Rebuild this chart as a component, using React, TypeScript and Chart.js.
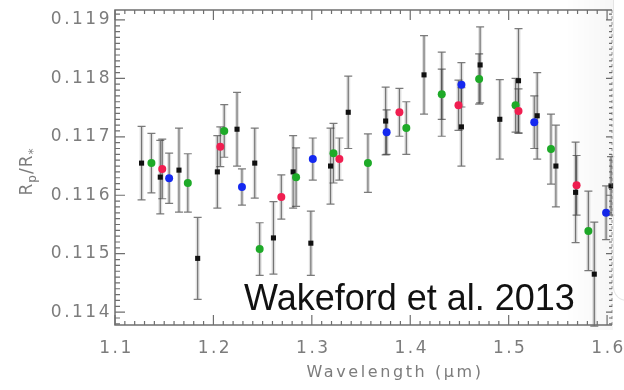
import React, { useEffect, useRef } from "react";
import { Chart, registerables } from "chart.js";

Chart.register(...registerables);

// Transit depth spectrum (planet-to-star radius ratio vs wavelength)
const blackWl = [1.127, 1.146, 1.165, 1.184, 1.204, 1.224, 1.242, 1.261, 1.281, 1.299, 1.319, 1.337, 1.375, 1.414, 1.432, 1.452, 1.471, 1.491, 1.51, 1.529, 1.548, 1.568, 1.587, 1.604];
const blackR = [0.11655, 0.11631, 0.11643, 0.11492, 0.1164, 0.11713, 0.11655, 0.11527, 0.1164, 0.11518, 0.1165, 0.11742, 0.11727, 0.11806, 0.11773, 0.11717, 0.11823, 0.1173, 0.11796, 0.11736, 0.1165, 0.11605, 0.11465, 0.11616];
const blackErr = [0.00063, 0.00063, 0.00072, 0.0007, 0.00062, 0.00063, 0.0006, 0.00062, 0.00062, 0.00055, 0.00065, 0.00062, 0.00058, 0.00067, 0.00072, 0.00067, 0.00065, 0.00068, 0.00089, 0.00074, 0.0007, 0.00086, 0.00089, 0.0005];

const greenWl = [1.137, 1.174, 1.211, 1.247, 1.284, 1.322, 1.357, 1.396, 1.432, 1.47, 1.507, 1.543, 1.581];
const greenR = [0.11655, 0.11621, 0.1171, 0.11508, 0.11631, 0.11672, 0.11655, 0.11715, 0.11773, 0.11799, 0.11754, 0.11679, 0.11539];
const greenErr = [0.00051, 0.0005, 0.00045, 0.00045, 0.0005, 0.00051, 0.0005, 0.00045, 0.00043, 0.00043, 0.00046, 0.0006, 0.00068];

const redWl = [1.148, 1.207, 1.269, 1.328, 1.389, 1.449, 1.51, 1.569];
const redR = [0.11645, 0.11683, 0.11597, 0.11662, 0.11742, 0.11754, 0.11744, 0.11617];
const redErr = [0.00051, 0.00034, 0.00038, 0.00036, 0.00041, 0.00043, 0.00038, 0.00051];

const blueWl = [1.155, 1.229, 1.301, 1.376, 1.452, 1.526, 1.599];
const blueR = [0.11629, 0.11614, 0.11662, 0.11708, 0.11789, 0.11725, 0.1157];
const blueErr = [0.00043, 0.00031, 0.00036, 0.00038, 0.00038, 0.00045, 0.00046];

const xTickValues = [1.1, 1.2, 1.3, 1.4, 1.5, 1.6];
const xTickLabels = ["1.1", "1.2", "1.3", "1.4", "1.5", "1.6"];
const yTickValues = [0.114, 0.115, 0.116, 0.117, 0.118, 0.119];
const yTickLabels = ["0.114", "0.115", "0.116", "0.117", "0.118", "0.119"];

const xTitle = "Wavelength (\u03BCm)";
const annotation = "Wakeford et al. 2013";

const toPoints = (xs: number[], ys: number[]) => xs.map((x, i) => ({ x, y: ys[i] }));

const AXIS_GRAY = "#6f6f6f";
const LABEL_GRAY = "#7c7c7c";

const errorBarsPlugin = {
  id: "errorBars",
  beforeDatasetsDraw(chart: any) {
    const ctx = chart.ctx;
    const xs = chart.scales.x;
    const ys = chart.scales.y;
    ctx.save();
    chart.data.datasets.forEach((ds: any) => {
      const errs: number[] = ds.errors || [];
      ds.data.forEach((p: any, i: number) => {
        const px = xs.getPixelForValue(p.x);
        const top = ys.getPixelForValue(p.y + errs[i]);
        const bot = ys.getPixelForValue(p.y - errs[i]);
        // soft band
        ctx.strokeStyle = "rgba(0,0,0,0.12)";
        ctx.lineWidth = 4;
        ctx.beginPath();
        ctx.moveTo(px, top);
        ctx.lineTo(px, bot);
        ctx.stroke();
        // core line and caps
        ctx.strokeStyle = "rgba(70,70,70,0.7)";
        ctx.lineWidth = 1.2;
        ctx.beginPath();
        ctx.moveTo(px, top);
        ctx.lineTo(px, bot);
        ctx.moveTo(px - 4, top);
        ctx.lineTo(px + 4, top);
        ctx.moveTo(px - 4, bot);
        ctx.lineTo(px + 4, bot);
        ctx.stroke();
      });
    });
    ctx.restore();
  },
};

const framePlugin = {
  id: "frame",
  afterDraw(chart: any) {
    const ctx = chart.ctx;
    const xs = chart.scales.x;
    const ys = chart.scales.y;
    const { left, right, top, bottom } = chart.chartArea;
    ctx.save();

    // frame
    ctx.strokeStyle = AXIS_GRAY;
    ctx.lineWidth = 1.5;
    ctx.beginPath();
    ctx.moveTo(right, top);
    ctx.lineTo(left, top);
    ctx.lineTo(left, bottom);
    ctx.lineTo(right, bottom);
    ctx.stroke();
    ctx.strokeStyle = "rgba(110,110,110,0.45)";
    ctx.setLineDash([3, 3]);
    ctx.beginPath();
    ctx.moveTo(right, top);
    ctx.lineTo(right, bottom);
    ctx.stroke();
    ctx.setLineDash([]);

    // x ticks (bottom and top)
    ctx.strokeStyle = AXIS_GRAY;
    ctx.lineWidth = 1.2;
    ctx.beginPath();
    for (let k = 0; k <= 50; k++) {
      const v = 1.1 + k * 0.01;
      const px = xs.getPixelForValue(v);
      if (px > right + 0.5) break;
      const len = k % 10 === 0 ? 10 : 4;
      ctx.moveTo(px, bottom);
      ctx.lineTo(px, bottom - len);
      ctx.moveTo(px, top);
      ctx.lineTo(px, top + len);
    }
    // y ticks (left and right)
    for (let k = -2; k <= 52; k++) {
      const v = 0.114 + k * 0.0001;
      const py = ys.getPixelForValue(v);
      if (py < top - 0.5 || py > bottom + 0.5) continue;
      const len = ((k % 10) + 10) % 10 === 0 ? 10 : 5;
      ctx.moveTo(left, py);
      ctx.lineTo(left + len, py);
      ctx.moveTo(right, py);
      ctx.lineTo(right - len * 0.6, py);
    }
    ctx.stroke();

    // tick labels
    ctx.fillStyle = LABEL_GRAY;
    ctx.font = "17px 'DejaVu Sans'";
    (ctx as any).letterSpacing = "2.5px";
    ctx.textBaseline = "middle";
    ctx.textAlign = "right";
    yTickValues.forEach((v, i) => {
      ctx.fillText(yTickLabels[i], left - 3, ys.getPixelForValue(v));
    });
    ctx.textAlign = "center";
    xTickValues.forEach((v, i) => {
      ctx.fillText(xTickLabels[i], xs.getPixelForValue(v) + 1.5, bottom + 24);
    });

    // x title
    ctx.font = "16px 'DejaVu Sans'";
    (ctx as any).letterSpacing = "2.6px";
    ctx.fillText(xTitle, 395, bottom + 48);

    // y title: R_p / R_*
    (ctx as any).letterSpacing = "1px";
    const parts: [string, number, number][] = [
      ["R", 17, 0],
      ["p", 12, 4],
      ["/R", 17, 0],
      ["*", 12, 5],
    ];
    let total = 0;
    parts.forEach(([t, s]) => {
      ctx.font = `${s}px 'DejaVu Sans'`;
      total += ctx.measureText(t).width;
    });
    ctx.translate(26, (top + bottom) / 2 + 4);
    ctx.rotate(-Math.PI / 2);
    ctx.textAlign = "left";
    ctx.textBaseline = "alphabetic";
    let cx = -total / 2;
    parts.forEach(([t, s, dy]) => {
      ctx.font = `${s}px 'DejaVu Sans'`;
      ctx.fillText(t, cx, 6 + dy);
      cx += ctx.measureText(t).width;
    });
    ctx.restore();
  },
};

export default function App() {
  const canvasRef = useRef<HTMLCanvasElement | null>(null);

  useEffect(() => {
    if (!canvasRef.current) return;
    const pointBase = { showLine: false, clip: false as any, pointBorderWidth: 0 };
    const chart = new Chart(canvasRef.current, {
      type: "scatter",
      data: {
        datasets: [
          { ...pointBase, label: "blue", data: toPoints(blueWl, blueR), errors: blueErr, pointBackgroundColor: "#1428f0", pointRadius: 4, pointStyle: "circle" } as any,
          { ...pointBase, label: "red", data: toPoints(redWl, redR), errors: redErr, pointBackgroundColor: "#f01e50", pointRadius: 4, pointStyle: "circle" } as any,
          { ...pointBase, label: "green", data: toPoints(greenWl, greenR), errors: greenErr, pointBackgroundColor: "#1eaa28", pointRadius: 4, pointStyle: "circle" } as any,
          { ...pointBase, label: "black", data: toPoints(blackWl, blackR), errors: blackErr, pointBackgroundColor: "#111111", pointRadius: 3.6, pointStyle: "rect" } as any,
        ],
      },
      options: {
        responsive: false,
        animation: false,
        layout: { padding: { top: 10, right: 12, left: 0, bottom: 0 } },
        plugins: { legend: { display: false }, tooltip: { enabled: false } },
        scales: {
          x: {
            type: "linear",
            min: 1.1,
            max: 1.605,
            grid: { display: false },
            border: { display: false },
            ticks: { display: false },
            afterFit: (s: any) => {
              s.height = 65;
            },
          },
          y: {
            type: "linear",
            min: 0.11378,
            max: 0.11917,
            grid: { display: false },
            border: { display: false },
            ticks: { display: false },
            afterFit: (s: any) => {
              s.width = 115;
            },
          },
        },
      },
      plugins: [errorBarsPlugin, framePlugin],
    });
    return () => chart.destroy();
  }, []);

  return (
    <div style={{ position: "fixed", left: 0, top: 0, width: 624, height: 390, background: "#fff", overflow: "hidden" }}>
      <canvas ref={canvasRef} width={624} height={390} style={{ width: 624, height: 390, filter: "blur(0.6px)" }} />
      {/* soft shade and edge of the overlapping panel on the right */}
      <div
        style={{
          position: "absolute",
          left: 565,
          top: 0,
          width: 48,
          height: 330,
          background: "linear-gradient(to right, rgba(0,0,0,0), rgba(0,0,0,0.035))",
          pointerEvents: "none",
        }}
      />
      <div
        style={{
          position: "absolute",
          left: 613,
          top: -20,
          width: 40,
          height: 320,
          background: "rgba(255,255,255,0.85)",
          borderLeft: "1px solid rgba(0,0,0,0.1)",
          borderBottom: "1px solid rgba(0,0,0,0.1)",
          borderBottomLeftRadius: 14,
        }}
      />
      <div
        style={{
          position: "absolute",
          left: 244,
          top: 280,
          fontFamily: "'Helvetica Neue', 'Liberation Sans', Arial, sans-serif",
          fontSize: 36,
          lineHeight: "36px",
          color: "#111",
          whiteSpace: "nowrap",
        }}
      >
        {annotation}
      </div>
    </div>
  );
}
